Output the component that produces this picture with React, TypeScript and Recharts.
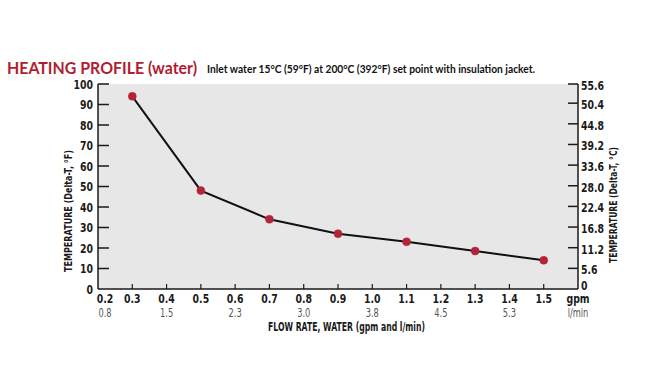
import React from "react";
import { LineChart, Line, XAxis, YAxis, CartesianGrid } from "recharts";

const flowGpm = [0.3, 0.5, 0.7, 0.9, 1.1, 1.3, 1.5];
const deltaF = [94, 48, 34, 27, 23, 18.5, 14];

const xTicks = [0.2, 0.3, 0.4, 0.5, 0.6, 0.7, 0.8, 0.9, 1.0, 1.1, 1.2, 1.3, 1.4, 1.5, 1.6];
const xGpmLabels = ["0.2", "0.3", "0.4", "0.5", "0.6", "0.7", "0.8", "0.9", "1.0", "1.1", "1.2", "1.3", "1.4", "1.5", "gpm"];
const xLpmLabels = ["0.8", "", "1.5", "", "2.3", "", "3.0", "", "3.8", "", "4.5", "", "5.3", "", "l/min"];

const fTicks = [0, 10, 20, 30, 40, 50, 60, 70, 80, 90, 100];
const cTicks = [0, 5.6, 11.2, 16.8, 22.4, 28.0, 33.6, 39.2, 44.8, 50.4, 55.6];

// same curve in °C, only used so the right axis gets drawn
const data = flowGpm.map((g, i) => ({ gpm: g, f: deltaF[i], c: (deltaF[i] * 5) / 9 }));

const FONT = "'DejaVu Sans', sans-serif";
const INK = "#1a1a1a";

// narrow text, the original uses a condensed face
function NarrowText({ x, y, anchor = "middle", bold = true, size = 12, fill = INK, sx = 0.78, children }: any) {
  return (
    <text
      transform={`translate(${x},${y}) scale(${sx},1)`}
      textAnchor={anchor}
      fontFamily={FONT}
      fontWeight={bold ? "bold" : "normal"}
      fontSize={size}
      fill={fill}
    >
      {children}
    </text>
  );
}

function XTick({ x, y, payload }: any) {
  const i = xTicks.findIndex((t) => Math.abs(t - payload.value) < 1e-6);
  const first = i === 0;
  const last = i === xTicks.length - 1;
  const dx = first ? 7 : 0;
  return (
    <g>
      {!first && !last && <line x1={x} y1={y} x2={x} y2={y - 5} stroke={INK} strokeWidth={1.2} />}
      <NarrowText x={x + dx} y={y + 14} size={12}>
        {xGpmLabels[i]}
      </NarrowText>
      <NarrowText x={x + dx} y={y + 28} size={11.5} bold={false} fill="#555" sx={0.72}>
        {xLpmLabels[i]}
      </NarrowText>
    </g>
  );
}

function LeftTick({ x, y, payload }: any) {
  return (
    <g>
      {payload.value !== 0 && <line x1={x} y1={y} x2={x + 11} y2={y} stroke={INK} strokeWidth={1.5} />}
      <NarrowText x={x - 5} y={y + 4.5} anchor="end" size={12}>
        {payload.value}
      </NarrowText>
    </g>
  );
}

function RightTick({ x, y, payload }: any) {
  const v = payload.value;
  return (
    <g>
      {v !== 0 && <line x1={x - 10} y1={y} x2={x} y2={y} stroke={INK} strokeWidth={1.5} />}
      <NarrowText x={x + 3} y={v === 0 ? y + 1 : y + 6} anchor="start" size={12}>
        {v === 0 ? "0" : v.toFixed(1)}
      </NarrowText>
    </g>
  );
}

export default function App() {
  return (
    <div style={{ position: "absolute", left: 0, top: 0, width: 650, height: 388, background: "#fff" }}>
      <LineChart width={650} height={388} data={data} margin={{ top: 84, right: 0, bottom: 0, left: 0 }}>
        <CartesianGrid fill="#e7e7e7" horizontal={false} vertical={false} />
        <XAxis
          dataKey="gpm"
          type="number"
          domain={[0.2, 1.6]}
          ticks={xTicks}
          height={99}
          tickSize={0}
          tickMargin={0}
          tickLine={false}
          axisLine={{ stroke: INK, strokeWidth: 1.5 }}
          tick={<XTick />}
          interval={0}
        />
        <YAxis
          yAxisId="f"
          domain={[0, 100]}
          ticks={fTicks}
          width={98}
          tickSize={0}
          tickMargin={0}
          tickLine={false}
          axisLine={{ stroke: INK, strokeWidth: 1.5 }}
          tick={<LeftTick />}
          interval={0}
        />
        <YAxis
          yAxisId="c"
          orientation="right"
          domain={[0, 55.6]}
          ticks={cTicks}
          width={72}
          tickSize={0}
          tickMargin={0}
          tickLine={false}
          axisLine={{ stroke: INK, strokeWidth: 1.5 }}
          tick={<RightTick />}
          interval={0}
        />
        <Line
          yAxisId="c"
          dataKey="c"
          stroke="none"
          dot={false}
          activeDot={false}
          isAnimationActive={false}
        />
        <Line
          yAxisId="f"
          dataKey="f"
          type="linear"
          stroke="#111"
          strokeWidth={2}
          dot={{ r: 4, fill: "#b3243a", stroke: "#b3243a", strokeWidth: 0.5 }}
          isAnimationActive={false}
        />
      </LineChart>
      <svg width={650} height={388} style={{ position: "absolute", left: 0, top: 0, pointerEvents: "none" }}>
        <text x={7} y={73.5} fontFamily="Lato, 'Open Sans', sans-serif" fontWeight="bold" fontSize={17.5} fill="#b01d30" textLength={190} lengthAdjust="spacingAndGlyphs">
          HEATING PROFILE (water)
        </text>
        <text x={207} y={72.5} fontFamily="Lato, 'Open Sans', sans-serif" fontWeight="bold" fontSize={10.5} fill="#111" textLength={328} lengthAdjust="spacingAndGlyphs">
          Inlet water 15°C (59°F) at 200°C (392°F) set point with insulation jacket.
        </text>
        <text x={268} y={331} fontFamily={FONT} fontWeight="bold" fontSize={11.5} fill={INK} textLength={157} lengthAdjust="spacingAndGlyphs">
          FLOW RATE, WATER  (gpm and l/min)
        </text>
        <text transform="translate(72, 211) rotate(-90)" textAnchor="middle" fontFamily={FONT} fontWeight="bold" fontSize={11} fill={INK} textLength={122} lengthAdjust="spacingAndGlyphs">
          TEMPERATURE  (Delta-T, °F)
        </text>
        <text transform="translate(617, 205) rotate(-90)" textAnchor="middle" fontFamily={FONT} fontWeight="bold" fontSize={11} fill={INK} textLength={116} lengthAdjust="spacingAndGlyphs">
          TEMPERATURE  (Delta-T, °C)
        </text>
      </svg>
    </div>
  );
}
